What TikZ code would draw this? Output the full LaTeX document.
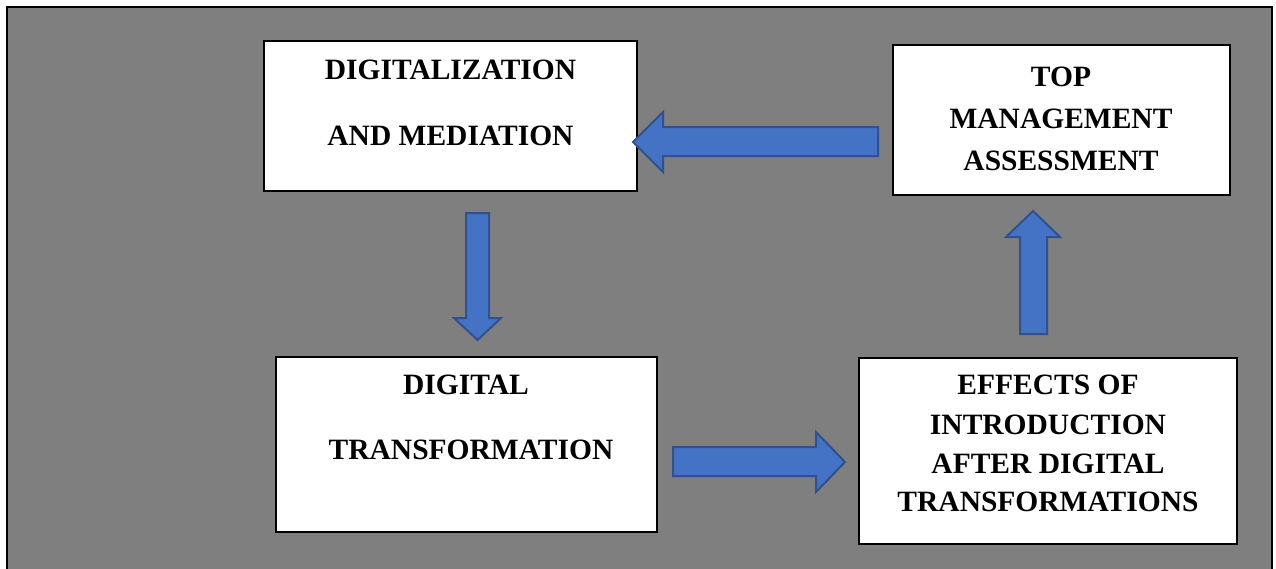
\documentclass[tikz,border=0pt]{standalone}
\usepackage{fontspec}
\setmainfont{Liberation Serif}
\definecolor{bggray}{HTML}{7F7F7F}
\definecolor{arrfill}{HTML}{4472C4}
\definecolor{arrdraw}{HTML}{2F528F}
\tikzset{
  box/.style={draw=black, line width=2pt, fill=white},
  lbl/.style={anchor=base, inner sep=0pt, font=\fontsize{29.5}{30}\selectfont\bfseries},
  blockarrow/.style={fill=arrfill, draw=arrdraw, line width=2pt, line join=miter},
}
\begin{document}
\begin{tikzpicture}[x=1pt,y=-1pt]
\useasboundingbox (0,0) rectangle (1276,568);
\fill[white] (0,0) rectangle (1276,568);
\draw[fill=bggray, line width=2.5pt] (7,7) rectangle (1272,580);

% boxes
\draw[box] (264,41) rectangle (637,191) node[pos=0.5,inner sep=0pt] (b1) {};
\draw[box] (893,45) rectangle (1230,195) node[pos=0.5,inner sep=0pt] (b2) {};
\draw[box] (276,357) rectangle (657,532) node[pos=0.5,inner sep=0pt] (b3) {};
\draw[box] (859,358) rectangle (1237,544) node[pos=0.5,inner sep=0pt] (b4) {};

% texts
\node[lbl] (t1a) at (450.5,79) {DIGITALIZATION};
\node[lbl] (t1b) at (450.5,145) {AND MEDIATION};
\node[lbl] (t2a) at (1061,86) {TOP};
\node[lbl] (t2b) at (1061,128) {MANAGEMENT};
\node[lbl] (t2c) at (1061,170) {ASSESSMENT};
\node[lbl] (t3a) at (466,394) {DIGITAL};
\node[lbl] (t3b) at (471,459) {TRANSFORMATION};
\node[lbl] (t4a) at (1048,394) {EFFECTS OF};
\node[lbl] (t4b) at (1048,434) {INTRODUCTION};
\node[lbl] (t4c) at (1048,473) {AFTER DIGITAL};
\node[lbl] (t4d) at (1048,511) {TRANSFORMATIONS};

% block arrows
% left: from TOP MANAGEMENT to DIGITALIZATION
\draw[blockarrow] (878,127) -- (663,127) -- (663,112) -- (633,142) -- (663,172) -- (663,156) -- (878,156) -- cycle;
% down: from DIGITALIZATION to DIGITAL TRANSFORMATION
\draw[blockarrow] (466,213) -- (489,213) -- (489,318) -- (501,318) -- (477.5,340) -- (454,318) -- (466,318) -- cycle;
% right: from DIGITAL TRANSFORMATION to EFFECTS
\draw[blockarrow] (673,447) -- (816,447) -- (816,432) -- (845,462) -- (816,492) -- (816,476) -- (673,476) -- cycle;
% up: from EFFECTS to TOP MANAGEMENT
\draw[blockarrow] (1020,334) -- (1020,237) -- (1006,237) -- (1033,211) -- (1060,237) -- (1047,237) -- (1047,334) -- cycle;
\end{tikzpicture}
\end{document}
